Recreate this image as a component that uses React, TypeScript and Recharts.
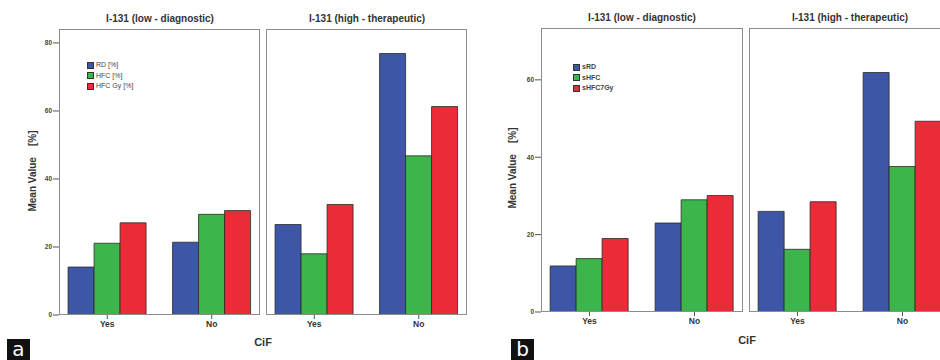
import React from 'react'
import { BarChart, Bar, XAxis, YAxis, Legend } from 'recharts'

const categories = ['Yes', 'No']

const seriesNamesA = ['RD [%]', 'HFC [%]', 'HFC Gy [%]']
const seriesNamesB = ['sRD', 'sHFC', 'sHFC7Gy']
const colors = ['#3d56a6', '#3cb54a', '#ec2b38']

// panel a - low (diagnostic)
const aLowRD = [14.1, 21.4]
const aLowHFC = [21.1, 29.6]
const aLowHFCGy = [27.1, 30.7]
// panel a - high (therapeutic)
const aHighRD = [26.6, 76.9]
const aHighHFC = [18.0, 46.8]
const aHighHFCGy = [32.5, 61.3]

// panel b - low (diagnostic)
const bLowSRD = [11.9, 23.0]
const bLowSHFC = [13.8, 29.0]
const bLowSHFC7Gy = [19.0, 30.1]
// panel b - high (therapeutic)
const bHighSRD = [26.0, 61.9]
const bHighSHFC = [16.2, 37.6]
const bHighSHFC7Gy = [28.5, 49.3]

const ticksA = [0, 20, 40, 60, 80]
const ticksB = [0, 20, 40, 60]

const facetTitles = ['I-131 (low - diagnostic)', 'I-131 (high - therapeutic)']

const FONT = '"Liberation Sans", Arial, sans-serif'
const Y_W = 60

function rows(a: number[], b: number[], c: number[]) {
  return categories.map((cat, i) => ({ cat, s0: a[i], s1: b[i], s2: c[i] }))
}

function LegendBox({ names, bold }: { names: string[]; bold: boolean }) {
  return (
    <div style={{ fontFamily: FONT, fontSize: 7, color: '#444', fontWeight: bold ? 'bold' : 'normal' }}>
      {names.map((n, i) => (
        <div key={n} style={{ display: 'flex', alignItems: 'center', height: 10.6 }}>
          <span
            style={{
              width: 7,
              height: 7,
              boxSizing: 'border-box',
              border: '1px solid #333',
              background: colors[i],
              marginRight: 2,
              display: 'inline-block',
            }}
          />
          <span style={{ lineHeight: '10px' }}>{n}</span>
        </div>
      ))}
    </div>
  )
}

interface FacetProps {
  left: number
  top: number
  width: number
  height: number
  data: { cat: string; s0: number; s1: number; s2: number }[]
  names: string[]
  domain: [number, number]
  ticks: number[]
  showY: boolean
  legendPos?: { left: number; top: number }
  boldLegend?: boolean
}

function Facet({ left, top, width, height, data, names, domain, ticks, showY, legendPos, boldLegend }: FacetProps) {
  const off = showY ? Y_W : 0
  return (
    <>
      <div style={{ position: 'absolute', left: left - off, top }}>
        <BarChart
          width={width + off}
          height={height + 30}
          data={data}
          margin={{ top: 0, right: 0, left: 0, bottom: 0 }}
          barCategoryGap="12.5%"
          barGap={0}
        >
          <XAxis
            dataKey="cat"
            height={30}
            axisLine={false}
            tickLine={{ stroke: '#555' }}
            tickSize={4}
            tickMargin={2}
            padding={{ left: -4, right: -4 }}
            tick={{ fontSize: 8.5, fontWeight: 'bold', fill: '#333', fontFamily: FONT }}
          />
          <YAxis
            hide={!showY}
            width={Y_W}
            domain={domain}
            ticks={ticks}
            allowDataOverflow
            axisLine={false}
            tickLine={{ stroke: '#555' }}
            tickSize={6}
            tickMargin={1}
            tick={{ fontSize: 6.5, fontWeight: 'bold', fill: '#444', fontFamily: FONT }}
          />
          {legendPos && (
            <Legend
              layout="vertical"
              align="center"
              verticalAlign="middle"
              wrapperStyle={{ left: legendPos.left, top: legendPos.top, width: 'auto' }}
              content={() => <LegendBox names={names} bold={!!boldLegend} />}
            />
          )}
          {['s0', 's1', 's2'].map((k, i) => (
            <Bar
              key={k}
              dataKey={k}
              name={names[i]}
              fill={colors[i]}
              stroke="#2a2a2a"
              strokeWidth={0.8}
              isAnimationActive={false}
            />
          ))}
        </BarChart>
      </div>
      <div
        style={{
          position: 'absolute',
          left,
          top,
          width,
          height,
          boxSizing: 'border-box',
          border: '1.5px solid #8c8c8c',
          pointerEvents: 'none',
        }}
      />
    </>
  )
}

function Text({ x, y, children, size, bold = true, rotate = false }: any) {
  return (
    <div
      style={{
        position: 'absolute',
        left: x,
        top: y,
        transform: `translate(-50%, -50%)${rotate ? ' rotate(-90deg)' : ''}`,
        fontFamily: FONT,
        fontSize: size,
        fontWeight: bold ? 'bold' : 'normal',
        color: '#333',
        whiteSpace: 'pre',
        lineHeight: 1,
      }}
    >
      {children}
    </div>
  )
}

function PanelTag({ x, label }: { x: number; label: string }) {
  return (
    <div
      style={{
        position: 'absolute',
        left: x,
        top: 339,
        width: 23,
        height: 21,
        background: '#111',
        color: '#fff',
        fontFamily: '"DejaVu Sans", sans-serif',
        fontSize: 20,
        lineHeight: '20px',
        textAlign: 'center',
      }}
    >
      {label}
    </div>
  )
}

export default function App() {
  return (
    <div
      style={{
        position: 'absolute',
        left: 0,
        top: 0,
        width: 940,
        height: 360,
        overflow: 'hidden',
        background: '#fff',
      }}
    >
      {/* panel a */}
      <Text x={160} y={19} size={10}>{facetTitles[0]}</Text>
      <Text x={367} y={19} size={10}>{facetTitles[1]}</Text>
      <Text x={33} y={171} size={10} rotate>{'Mean Value    [%]'}</Text>
      <Facet
        left={59}
        top={29}
        width={201}
        height={286}
        data={rows(aLowRD, aLowHFC, aLowHFCGy)}
        names={seriesNamesA}
        domain={[0, 84.1]}
        ticks={ticksA}
        showY
        legendPos={{ left: 88, top: 31 }}
      />
      <Facet
        left={266}
        top={29}
        width={201}
        height={286}
        data={rows(aHighRD, aHighHFC, aHighHFCGy)}
        names={seriesNamesA}
        domain={[0, 84.1]}
        ticks={ticksA}
        showY={false}
      />
      <Text x={263} y={342} size={11}>CiF</Text>
      <PanelTag x={7} label="a" />

      {/* panel b */}
      <Text x={642} y={18} size={10}>{facetTitles[0]}</Text>
      <Text x={850} y={18} size={10}>{facetTitles[1]}</Text>
      <Text x={513} y={168} size={10} rotate>{'Mean Value    [%]'}</Text>
      <Facet
        left={541}
        top={28}
        width={202}
        height={284}
        data={rows(bLowSRD, bLowSHFC, bLowSHFC7Gy)}
        names={seriesNamesB}
        domain={[0, 73.4]}
        ticks={ticksB}
        showY
        legendPos={{ left: 92, top: 34 }}
        boldLegend
      />
      <Facet
        left={749}
        top={28}
        width={202}
        height={284}
        data={rows(bHighSRD, bHighSHFC, bHighSHFC7Gy)}
        names={seriesNamesB}
        domain={[0, 73.4]}
        ticks={ticksB}
        showY={false}
      />
      <Text x={747} y={340} size={11}>CiF</Text>
      <PanelTag x={511} label="b" />
    </div>
  )
}
